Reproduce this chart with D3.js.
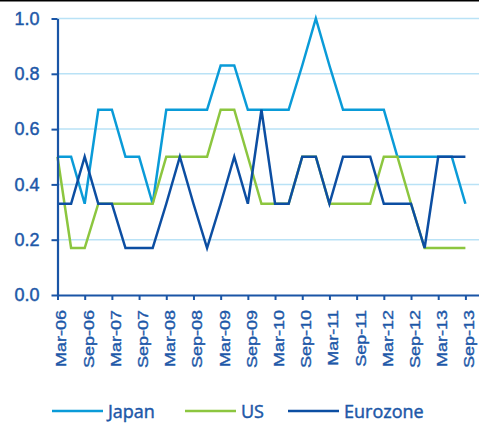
<!DOCTYPE html>
<html>
<head>
<meta charset="utf-8">
<script src="https://cdn.jsdelivr.net/npm/d3@7"></script>
<style>
  body { margin: 0; background: #fff; }
  svg { display: block; font-family: "Open Sans", sans-serif; }
  svg text { stroke: #1d58a8; stroke-width: 0.45px; }
</style>
</head>
<body>
<div id="chart"></div>
<script>
// quarterly readings, Mar-06 .. Sep-13
const tickLabels = ['Mar-06', 'Sep-06', 'Mar-07', 'Sep-07', 'Mar-08', 'Sep-08', 'Mar-09', 'Sep-09',
  'Mar-10', 'Sep-10', 'Mar-11', 'Sep-11', 'Mar-12', 'Sep-12', 'Mar-13', 'Sep-13'];
const japan = [0.5, 0.5, 0.33, 0.67, 0.67, 0.5, 0.5, 0.33, 0.67, 0.67, 0.67, 0.67, 0.83, 0.83, 0.67, 0.67,
  0.67, 0.67, 0.83, 1.0, 0.83, 0.67, 0.67, 0.67, 0.67, 0.5, 0.5, 0.5, 0.5, 0.5, 0.33];
const us = [0.5, 0.17, 0.17, 0.33, 0.33, 0.33, 0.33, 0.33, 0.5, 0.5, 0.5, 0.5, 0.67, 0.67, 0.5, 0.33,
  0.33, 0.33, 0.5, 0.5, 0.33, 0.33, 0.33, 0.33, 0.5, 0.5, 0.33, 0.17, 0.17, 0.17, 0.17];
const eurozone = [0.33, 0.33, 0.5, 0.33, 0.33, 0.17, 0.17, 0.17, 0.33, 0.5, 0.33, 0.17, 0.33, 0.5, 0.33, 0.67,
  0.33, 0.33, 0.5, 0.5, 0.33, 0.5, 0.5, 0.5, 0.33, 0.33, 0.33, 0.17, 0.5, 0.5, 0.5];
const yTicks = [0, 0.2, 0.4, 0.6, 0.8, 1.0];

const series = [
  { name: 'Japan', values: japan, color: '#0a9bd8' },
  { name: 'US', values: us, color: '#8cc63f' },
  { name: 'Eurozone', values: eurozone, color: '#0c4ea2' }
];

const width = 479;
const height = 423;
const axisColor = '#1a55a6';
const textColor = '#1d58a8';

const svg = d3.select('#chart')
  .append('svg')
  .attr('width', width)
  .attr('height', height);

// black rule along the top
svg.append('line')
  .attr('x1', 0).attr('x2', width)
  .attr('y1', 0.75).attr('y2', 0.75)
  .attr('stroke', '#000')
  .attr('stroke-width', 1.5);

const xScale = d3.scaleLinear()
  .domain([0, 31])
  .range([57.5, 479]);

const yScale = d3.scaleLinear()
  .domain([0, 1])
  .range([295, 18.5]);

// gridlines
svg.append('g')
  .selectAll('line')
  .data(yTicks.filter(d => d > 0))
  .join('line')
  .attr('x1', xScale(0)).attr('x2', width)
  .attr('y1', d => yScale(d)).attr('y2', d => yScale(d))
  .attr('stroke', '#b9e2f6')
  .attr('stroke-width', 1.5);

const line = d3.line()
  .x((d, i) => xScale(i))
  .y(d => yScale(d));

svg.append('g')
  .selectAll('path')
  .data(series)
  .join('path')
  .attr('d', d => line(d.values))
  .attr('fill', 'none')
  .attr('stroke', d => d.color)
  .attr('stroke-width', 2.5)
  .attr('stroke-linejoin', 'miter');

// y axis
const yAxis = d3.axisLeft(yScale)
  .tickValues(yTicks)
  .tickFormat(d3.format('.1f'))
  .tickSize(6)
  .tickSizeOuter(0)
  .tickPadding(12);

const gy = svg.append('g')
  .attr('transform', `translate(${xScale(0)},0)`)
  .call(yAxis);
gy.select('.domain').attr('stroke', axisColor).attr('stroke-width', 2.2);
gy.selectAll('.tick line').attr('stroke', axisColor).attr('stroke-width', 2);
gy.selectAll('.tick text')
  .attr('fill', textColor)
  .style('font-size', '18px');

// x axis
const xAxis = d3.axisBottom(xScale)
  .tickValues(d3.range(0, 31, 2))
  .tickFormat(d => tickLabels[d / 2])
  .tickSize(5)
  .tickSizeOuter(0);

const gx = svg.append('g')
  .attr('transform', `translate(0,${yScale(0)})`)
  .call(xAxis);
gx.select('.domain').attr('stroke', axisColor).attr('stroke-width', 2.2);
gx.selectAll('.tick line').attr('stroke', axisColor).attr('stroke-width', 2);
gx.selectAll('.tick text')
  .attr('fill', textColor)
  .style('font-size', '18px')
  .attr('text-anchor', 'end')
  .attr('x', 0).attr('y', 0).attr('dy', 0)
  .attr('transform', 'translate(8.4,15) rotate(-90) scale(1,0.83)');

// legend
const legend = svg.append('g')
  .selectAll('g')
  .data(series)
  .join('g')
  .attr('transform', (d, i) => `translate(${[52, 185, 288][i]},411)`);

legend.append('line')
  .attr('x1', 0).attr('x2', 51)
  .attr('stroke', d => d.color)
  .attr('stroke-width', 2.5);

legend.append('text')
  .attr('x', 56)
  .attr('y', 7)
  .attr('fill', textColor)
  .style('font-size', '18px')
  .text(d => d.name);
</script>
</body>
</html>
